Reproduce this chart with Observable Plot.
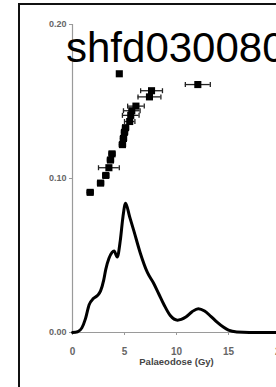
<!DOCTYPE html>
<html>
<head>
<meta charset="utf-8">
<script src="https://cdn.jsdelivr.net/npm/d3@7"></script>
<script src="https://cdn.jsdelivr.net/npm/@observablehq/plot@0.6"></script>
<style>
  html, body { margin: 0; padding: 0; background: #fff; overflow: hidden; width: 276px; height: 387px; }
  #wrap { position: relative; width: 276px; height: 387px; overflow: hidden; }
  #frame { position: absolute; left: 18px; top: 3px; width: 400px; height: 500px; border: 2px solid #111; box-sizing: border-box; pointer-events: none; }
  #chart { position: absolute; left: 0; top: 0; }
  #chart svg { max-width: none !important; }
  #title { position: absolute; left: 66px; top: 27px; font-family: "Liberation Sans", Arial, sans-serif; font-size: 42px; line-height: 42px; color: #000; white-space: nowrap; }
</style>
</head>
<body>
<div id="wrap">
  <div id="chart"></div>
  <div id="frame"></div>
  <div id="title">shfd030080</div>
</div>
<script>
// Palaeodose measurements (Gy), their x-error (Gy), and plotted y position
const doses  = [1.7, 2.7, 3.2, 3.5, 3.65, 3.8, 4.8, 4.9, 5.0, 5.1, 5.5, 5.6, 5.7, 6.1, 7.4, 7.6, 4.5, 12.05];
const errors = [0.3, 0.3, 0.3, 1.0, 0.3, 0.3, 0.3, 0.3, 0.3, 0.3, 0.5, 0.8, 0.8, 0.8, 1.1, 1.05, 0, 1.2];
const ranks  = [0.091, 0.097, 0.102, 0.107, 0.112, 0.116, 0.122, 0.126, 0.130, 0.133, 0.137, 0.141, 0.144, 0.147, 0.153, 0.157, 0.168, 0.161];

// Probability density curve
const curveX = [0, 0.5, 0.9, 1.25, 1.6, 2.0, 2.4, 2.7, 3.0, 3.2, 3.5, 3.8, 4.0, 4.3, 4.6, 4.85, 5.1, 5.5, 5.9, 6.5, 7.2, 7.8, 8.3, 8.8, 9.4, 10.1, 10.9, 11.5, 12.1, 12.7, 13.3, 13.9, 14.5, 15.0, 15.8, 17, 20, 21];
const curveY = [0, 0.0005, 0.003, 0.009, 0.018, 0.022, 0.024, 0.027, 0.034, 0.041, 0.048, 0.052, 0.053, 0.049, 0.060, 0.075, 0.084, 0.075, 0.066, 0.052, 0.039, 0.032, 0.025, 0.018, 0.011, 0.008, 0.010, 0.0135, 0.0155, 0.014, 0.0105, 0.0067, 0.0035, 0.0015, 0.0003, 0, 0, 0];

const xTicks = [0, 5, 10, 15, 20];
const yTicks = [0, 0.10, 0.20];
const xLabel = "Palaeodose (Gy)";

const points = doses.map((x, i) => ({x, e: errors[i], y: ranks[i]}));
const withErr = points.filter(d => d.e > 0);
const curve = curveX.map((x, i) => ({x, y: curveY[i]}));

const vbar = { draw(ctx, size) { const h = Math.sqrt(size / Math.PI); ctx.moveTo(0, -h); ctx.lineTo(0, h); } };

const tickFont = '"Liberation Sans Narrow", "Arial Narrow", "Liberation Sans", Arial, sans-serif';

const chart = Plot.plot({
  width: 290,
  height: 387,
  marginLeft: 72,
  marginRight: 10,
  marginTop: 24,
  marginBottom: 55,
  style: { fontFamily: tickFont, background: "transparent", overflow: "visible", maxWidth: "none" },
  x: { domain: [0, 20] },
  y: { domain: [0, 0.2] },
  marks: [
    Plot.ruleY([0], { stroke: "#9a9a9a", strokeWidth: 1.2 }),
    Plot.ruleX([0], { stroke: "#9a9a9a", strokeWidth: 1.2 }),
    Plot.axisX({ ticks: xTicks, tickSize: 3, tickPadding: 12, fontSize: 10, fontWeight: "bold", fill: "#666", stroke: "#9a9a9a",
                 label: null, tickFormat: d3.format("d") }),
    Plot.axisX({ ticks: [], tickSize: 0, label: xLabel, labelAnchor: "center", labelOffset: 32, labelArrow: "none", fontSize: 9.5, fontWeight: "bold", fill: "#444" }),
    Plot.axisY({ ticks: yTicks, tickSize: 3, tickPadding: 3, fontSize: 9, fontWeight: "bold", fill: "#666", stroke: "#9a9a9a",
                 label: null, tickFormat: d3.format(".2f") }),
    Plot.line(curve, { x: "x", y: "y", stroke: "#000", strokeWidth: 3, curve: "monotone-x" }),
    Plot.ruleY(withErr, { y: "y", x1: d => d.x - d.e, x2: d => d.x + d.e, stroke: "#222", strokeWidth: 1.3 }),
    Plot.dot(withErr, { x: d => d.x - d.e, y: "y", symbol: vbar, r: 2.5, stroke: "#222", strokeWidth: 1.3 }),
    Plot.dot(withErr, { x: d => d.x + d.e, y: "y", symbol: vbar, r: 2.5, stroke: "#222", strokeWidth: 1.3 }),
    Plot.dot(points, { x: "x", y: "y", symbol: "square", r: 4, fill: "#000", stroke: "none" })
  ]
});
document.getElementById("chart").appendChild(chart);
</script>
</body>
</html>
